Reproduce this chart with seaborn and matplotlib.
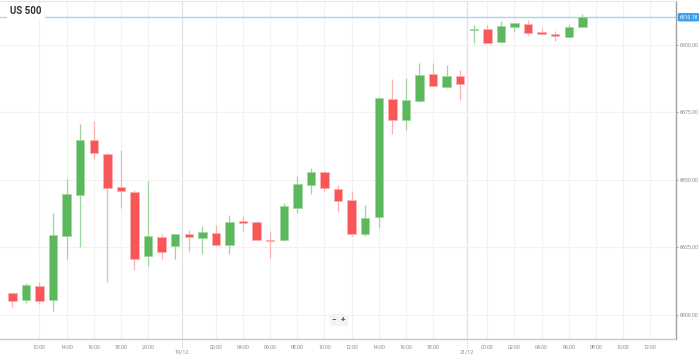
import numpy as np
import pandas as pd
import matplotlib
matplotlib.use("Agg")
import matplotlib.pyplot as plt
import matplotlib.transforms as mtransforms
import seaborn as sns

# Hourly candles, US 500
opens = [6808.0, 6805.4, 6810.8, 6805.5, 6829.3, 6844.5, 6864.8, 6859.7, 6847.5, 6845.5,
         6821.7, 6829.0, 6825.4, 6829.8, 6828.3, 6830.4, 6825.8, 6834.6, 6834.3, 6827.9,
         6827.6, 6839.7, 6848.0, 6852.9, 6846.8, 6842.7, 6830.1, 6836.2, 6880.0, 6872.3,
         6879.3, 6889.3, 6884.4, 6888.4, 6905.4, 6905.9, 6900.9, 6906.6, 6907.7, 6904.8,
         6904.1, 6903.0, 6906.5]
highs = [6808.4, 6811.9, 6812.3, 6837.7, 6850.2, 6870.5, 6871.7, 6859.9, 6860.9, 6846.1,
         6849.6, 6829.8, 6830.1, 6831.4, 6832.8, 6833.3, 6837.0, 6836.5, 6834.7, 6831.0,
         6841.4, 6851.4, 6854.4, 6853.2, 6848.0, 6845.9, 6840.8, 6880.8, 6887.3, 6887.7,
         6893.2, 6893.4, 6892.6, 6890.8, 6907.4, 6907.4, 6908.9, 6908.1, 6909.1, 6906.2,
         6905.2, 6907.6, 6911.5]
lows = [6802.8, 6804.5, 6804.0, 6801.6, 6820.8, 6825.2, 6857.6, 6812.3, 6839.6, 6816.6,
        6818.2, 6820.6, 6820.6, 6823.2, 6822.5, 6825.7, 6822.5, 6831.1, 6827.4, 6820.9,
        6827.3, 6837.9, 6844.9, 6845.9, 6838.1, 6829.4, 6829.3, 6832.0, 6867.0, 6868.3,
        6879.0, 6884.6, 6884.0, 6879.6, 6900.8, 6900.6, 6900.9, 6904.9, 6903.7, 6904.1,
        6901.5, 6903.0, 6906.5]
closes = [6805.3, 6811.0, 6805.2, 6829.6, 6844.6, 6864.8, 6860.0, 6847.1, 6845.9, 6820.8,
          6829.2, 6823.2, 6829.9, 6828.7, 6830.7, 6825.9, 6834.4, 6834.1, 6827.7, 6827.3,
          6840.3, 6848.3, 6852.9, 6847.0, 6842.2, 6829.9, 6835.9, 6880.3, 6872.2, 6879.7,
          6888.9, 6884.9, 6888.6, 6885.6, 6906.0, 6900.7, 6906.8, 6908.0, 6904.3, 6904.1,
          6903.1, 6906.4, 6910.18]

# time axis labels (candle index -> label), gaps in trading are compressed
time_ticks = [2, 4, 6, 8, 10, 15, 17, 19, 21, 23, 25, 27, 29, 31, 35, 37, 39, 41, 43, 45, 47]
time_labels = ["12:00", "14:00", "16:00", "18:00", "20:00", "02:00", "04:00", "06:00", "08:00",
               "10:00", "12:00", "14:00", "16:00", "18:00", "00:00", "02:00", "04:00", "06:00",
               "08:00", "10:00", "12:00"]
day_ticks = [12.5, 33.5]
day_labels = ["19/12", "21/12"]
price_ticks = [6800, 6825, 6850, 6875, 6900]
last_price = 6910.18

df = pd.DataFrame({"open": opens, "high": highs, "low": lows, "close": closes})
df["x"] = np.arange(len(df))
df["up"] = df["close"] >= df["open"]

sns.set_style("white")
plt.rcParams["font.family"] = ["Roboto", "DejaVu Sans"]

fig = plt.figure(figsize=(6.99, 3.58), dpi=100)
ax = fig.add_axes([0, 19 / 358, 676 / 699, 338 / 358])

green, green_light = "#5cb85c", "#9fd69f"
red, red_light = "#f95757", "#fcb0b0"

# grid
for t in time_ticks:
    ax.axvline(t, color="#f2f2f2", lw=0.8, zorder=0)
for t in day_ticks:
    ax.axvline(t, color="#e2e2e2", lw=0.9, zorder=0)
for p in price_ticks:
    ax.axhline(p, color="#f2f2f2", lw=0.8, zorder=0)

# wicks
ax.vlines(df["x"], df["low"], df["high"],
          colors=np.where(df["up"], green_light, red_light), lw=0.9, zorder=2)

# bodies
body_lo = df[["open", "close"]].min(axis=1)
body_h = (df["close"] - df["open"]).abs().clip(lower=0.6)
ax.bar(df["x"], body_h, bottom=body_lo, width=0.62,
       color=np.where(df["up"], green, red),
       edgecolor=np.where(df["up"], green_light, red_light), linewidth=0.5, zorder=3)

# current price line
ax.axhline(last_price, color="#a9d4f5", lw=1.0, zorder=1)

ax.set_xlim(-0.906, 48.9)
ax.set_ylim(6791.1, 6916.2)

ax.set_xticks(time_ticks)
ax.set_xticklabels(time_labels)
ax.set_yticks(price_ticks)
ax.set_yticklabels([f"{p:.2f}" for p in price_ticks])
ax.yaxis.tick_right()
ax.tick_params(axis="both", labelsize=3.8, labelcolor="#8a8a8a", color="#9a9a9a",
               length=1.5, width=0.6, pad=0.8)
ax.tick_params(axis="x", length=2, pad=2.2)

for side in ["left", "top"]:
    ax.spines[side].set_visible(False)
ax.spines["right"].set_color("#a0a0a0")
ax.spines["bottom"].set_color("#c8c8c8")
ax.spines["right"].set_linewidth(1.0)
ax.spines["bottom"].set_linewidth(1.0)
fig.add_artist(plt.Line2D([0, 676 / 699], [357 / 358, 357 / 358], color="#e6e6e6", lw=0.8))

# day separators below the axis
trans = mtransforms.blended_transform_factory(ax.transData, ax.transAxes)
for t, lab in zip(day_ticks, day_labels):
    ax.plot([t, t], [-0.005, -0.028], color="#b0b0b0", lw=0.6, ls=(0, (1, 1)),
            transform=trans, clip_on=False)
    ax.text(t, -(352 - 339) / 338, lab, transform=trans, ha="center", va="center",
            fontsize=3.9, color="#8a8a8a")

# last price tag
ytrans = mtransforms.blended_transform_factory(ax.transAxes, ax.transData)
ax.text(1.005, last_price, f"{last_price:.2f}", transform=ytrans, ha="left", va="center",
        fontsize=3.6, color="white", clip_on=False,
        bbox=dict(boxstyle="round,pad=0.2,rounding_size=0.15", fc="#3da0ee", ec="#3da0ee"))

# title
fig.text(10 / 699, 1 - 11 / 358, "US 500", ha="left", va="center", fontsize=7,
         fontweight="bold", color="#333333",
         bbox=dict(boxstyle="square,pad=0.35", fc="white", ec="none"))

# zoom buttons
fig.text(339 / 699, 1 - 320 / 358, "\u2212  +", ha="center", va="center", fontsize=6,
         fontweight="bold", color="#555555",
         bbox=dict(boxstyle="round,pad=0.3", fc="#f4f4f4", ec="none"))

fig.savefig("out.png", dpi=100)
